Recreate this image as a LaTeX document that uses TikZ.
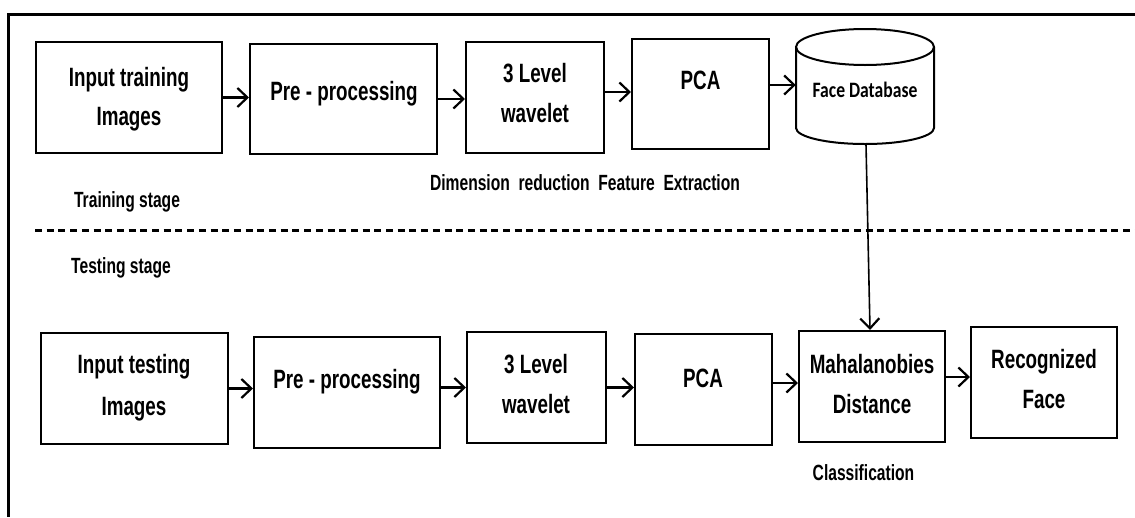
\documentclass[tikz,border=0pt]{standalone}
\usepackage{fontspec}
\setmainfont{Liberation Sans}[FakeStretch=0.71]
\newfontfamily\dbfont{Carlito}[FakeStretch=0.8]
\usetikzlibrary{arrows.meta}

\begin{document}
\begin{tikzpicture}[x=1pt,y=-1pt,
  stagebox/.style={draw, line width=2pt, inner sep=0pt},
  boxtext/.style={font=\fontsize{26.5}{30}\selectfont\bfseries, anchor=base, inner sep=0pt},
  note/.style={font=\fontsize{22}{26}\selectfont\bfseries, anchor=base, inner sep=0pt},
  flow/.style={line width=2.2pt, -{Straight Barb[length=10pt,width=19pt,line width=2.2pt]}},
]
\useasboundingbox (0,0) rectangle (1135,517);

% outer frame (top and left edges)
\draw[line width=3pt] (1135,14) -- (8,14) -- (8,517);

% separator between the two stages
\draw[line width=3pt, dash pattern=on 7pt off 4.7pt] (35,230) -- (1135,230);

% ---------- training stage ----------
\node[stagebox, minimum width=186pt, minimum height=111pt] (t1) at (129,97.5) {};
\node[stagebox, minimum width=187pt, minimum height=110pt] (t2) at (343.5,99) {};
\node[stagebox, minimum width=138pt, minimum height=111pt] (t3) at (535,97.5) {};
\node[stagebox, minimum width=137pt, minimum height=110pt] (t4) at (700.5,94) {};
\node[minimum width=138pt, minimum height=115pt, inner sep=0pt] (db) at (865,86.5) {};

% database cylinder
\draw[line width=2pt] (865,47) ellipse [x radius=69, y radius=18];
\draw[line width=2pt] (796,47) -- (796,128)
   arc[start angle=180, end angle=0, x radius=69, y radius=16] -- (934,47);

\node[boxtext] (t1a) at (129,86) {Input training};
\node[boxtext] (t1b) at (129,125) {Images};
\node[boxtext] (t2a) at (344,100) {Pre - processing};
\node[boxtext] (t3a) at (535,82) {3 Level};
\node[boxtext] (t3b) at (535,122) {wavelet};
\node[boxtext] (t4a) at (700.5,89) {PCA};
\node[anchor=base, inner sep=0pt, font=\dbfont\fontsize{22}{24}\selectfont\bfseries] (dba) at (865,97) {Face Database};

\node[note] (lt) at (127,207) {Training stage};
\node[note] (ld) at (585,190) {Dimension\ \ reduction\ \ Feature\ \ Extraction};

\draw[flow] (t1.east) -- (t1.east -| t2.west);
\draw[flow] (t2.east) -- (t2.east -| t3.west);
\draw[flow] ([yshift=5.5pt]t3.east) -- ([yshift=2pt]t4.west);
\draw[flow] ([yshift=9pt]t4.east) -- ([yshift=1.5pt]db.west);

% ---------- testing stage ----------
\node[note] (ls) at (121,273) {Testing stage};

\node[stagebox, minimum width=187pt, minimum height=111pt] (b1) at (134.5,388.5) {};
\node[stagebox, minimum width=186pt, minimum height=111pt] (b2) at (347,392.5) {};
\node[stagebox, minimum width=139pt, minimum height=111pt] (b3) at (536.5,387.5) {};
\node[stagebox, minimum width=137pt, minimum height=111pt] (b4) at (703.5,389.5) {};
\node[stagebox, minimum width=146pt, minimum height=111pt] (b5) at (872,386.5) {};
\node[stagebox, minimum width=146pt, minimum height=111pt] (b6) at (1044,382.5) {};

\node[boxtext] (b1a) at (134,373) {Input testing};
\node[boxtext] (b1b) at (134,415) {Images};
\node[boxtext] (b2a) at (347,388) {Pre - processing};
\node[boxtext] (b3a) at (536,373) {3 Level};
\node[boxtext] (b3b) at (536,413) {wavelet};
\node[boxtext] (b4a) at (703,387) {PCA};
\node[boxtext] (b5a) at (872,373) {Mahalanobies};
\node[boxtext] (b5b) at (872,413) {Distance};
\node[boxtext] (b6a) at (1044,368) {Recognized};
\node[boxtext] (b6b) at (1044,408) {Face};

\node[note] (lc) at (863.5,480) {Classification};

\draw[flow] (b1.east) -- (b1.east -| b2.west);
\draw[flow] (b3.west -| b2.east) -- (b3.west);
\draw[flow] (b3.east) -- (b3.east -| b4.west);
\draw[flow] ([yshift=6.5pt]b4.east) -- ([yshift=3.5pt]b5.west);
\draw[flow] ([yshift=9.5pt]b5.east) -- ([yshift=5.5pt]b6.west);

% database feeds the classifier
\draw[flow, line width=1.6pt] ([xshift=1pt]db.south) -- ([xshift=-2pt]b5.north);
\end{tikzpicture}
\end{document}
